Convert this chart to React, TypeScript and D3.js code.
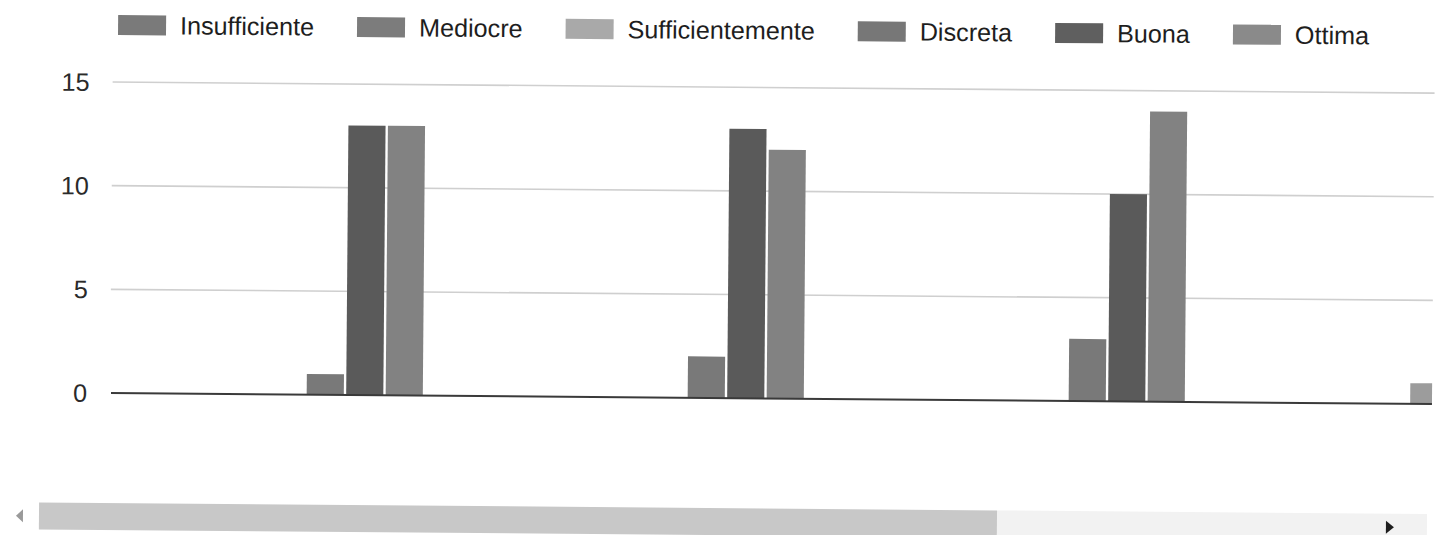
import React from "react";
import * as d3 from "d3";

const categories = ["1", "2", "3", "4"];
const seriesNames = ["Insufficiente", "Mediocre", "Sufficientemente", "Discreta", "Buona", "Ottima"];
const insufficiente = [0, 0, 0, 0];
const mediocre = [0, 0, 0, 0];
const sufficientemente = [0, 0, 0, 1];
const discreta = [1, 2, 3, 0];
const buona = [13, 13, 10, 0];
const ottima = [13, 12, 14, 0];
const yTicks = [0, 5, 10, 15];

const seriesValues = [insufficiente, mediocre, sufficientemente, discreta, buona, ottima];
const barColors = ["#7a7a7a", "#7c7c7c", "#9c9c9c", "#797979", "#5a5a5a", "#828282"];
const legendColors = ["#7a7a7a", "#7c7c7c", "#a9a9a9", "#777777", "#5f5f5f", "#8a8a8a"];

const W = 1441;
const H = 535;
const FONT = "'Liberation Sans', Arial, sans-serif";
const FS = 25.2;

function measure(text: string): number {
  const c = document.createElement("canvas");
  const ctx = c.getContext("2d");
  if (!ctx) return text.length * FS * 0.5;
  ctx.font = `${FS}px 'Liberation Sans'`;
  return ctx.measureText(text).width;
}

export default function App() {
  const plotLeft = 110;
  const plotRight = 1432;
  const base = 393;
  const top = 82;
  const step = 381;
  const x0 = 115;

  const y = d3.scaleLinear().domain([0, 15]).range([base, top]);
  const x = d3
    .scaleBand<string>()
    .domain(categories)
    .range([x0, x0 + categories.length * step])
    .paddingInner(0.378)
    .paddingOuter(0.189);
  const xs = d3
    .scaleBand<string>()
    .domain(seriesNames)
    .range([0, x.bandwidth()])
    .paddingInner(0.06)
    .paddingOuter(0.03);

  const swW = 48;
  const swH = 20;
  const gapST = 14;
  const gapItem = 43;
  let lx = 115;
  const legendItems = seriesNames.map((name, i) => {
    const item = { name, x: lx, color: legendColors[i] };
    lx += swW + gapST + measure(name) + gapItem;
    return item;
  });
  const legendY = 25;

  return (
    <div style={{ position: "absolute", left: 0, top: 0 }}>
      <svg width={W} height={H} style={{ display: "block", background: "#fff" }}>
        <defs>
          <clipPath id="plotClip">
            <rect x={plotLeft} y={0} width={plotRight - plotLeft} height={base + 5} />
          </clipPath>
        </defs>
        <g transform={`rotate(0.48, ${plotLeft}, ${base})`}>
          {legendItems.map((it) => (
            <g key={it.name}>
              <rect x={it.x} y={legendY - swH / 2} width={swW} height={swH} fill={it.color} />
              <text
                x={it.x + swW + gapST}
                y={legendY}
                dy="0.35em"
                fontFamily={FONT}
                fontSize={FS}
                fill="#1e1e1e"
              >
                {it.name}
              </text>
            </g>
          ))}

          {yTicks.map((t) => (
            <g key={t}>
              {t !== 0 && (
                <line x1={plotLeft} x2={plotRight} y1={y(t)} y2={y(t)} stroke="#cfcfcf" strokeWidth={1.6} />
              )}
              <text
                x={87}
                y={y(t)}
                dy="0.36em"
                textAnchor="end"
                fontFamily={FONT}
                fontSize={FS}
                fill="#2a2a2a"
              >
                {t}
              </text>
            </g>
          ))}

          <g clipPath="url(#plotClip)">
            {categories.map((c, ci) =>
              seriesNames.map((s, si) => {
                const v = seriesValues[si][ci];
                if (!v) return null;
                return (
                  <rect
                    key={c + s}
                    x={(x(c) ?? 0) + (xs(s) ?? 0)}
                    y={y(v)}
                    width={xs.bandwidth()}
                    height={y(0) - y(v)}
                    fill={barColors[si]}
                  />
                );
              })
            )}
          </g>

          <line x1={plotLeft + 1} x2={plotRight} y1={y(0)} y2={y(0)} stroke="#3a3a3a" strokeWidth={2} />

          <rect x={998} y={503} width={430} height={27} fill="#f2f2f2" />
          <rect x={40} y={503} width={958} height={27} fill="#c8c8c8" />
          <path d="M 24 510 L 17 516.5 L 24 523 Z" fill="#9a9a9a" />
          <path d="M 1387 510 L 1395 516.5 L 1387 523 Z" fill="#1e1e1e" />
        </g>
      </svg>
    </div>
  );
}
